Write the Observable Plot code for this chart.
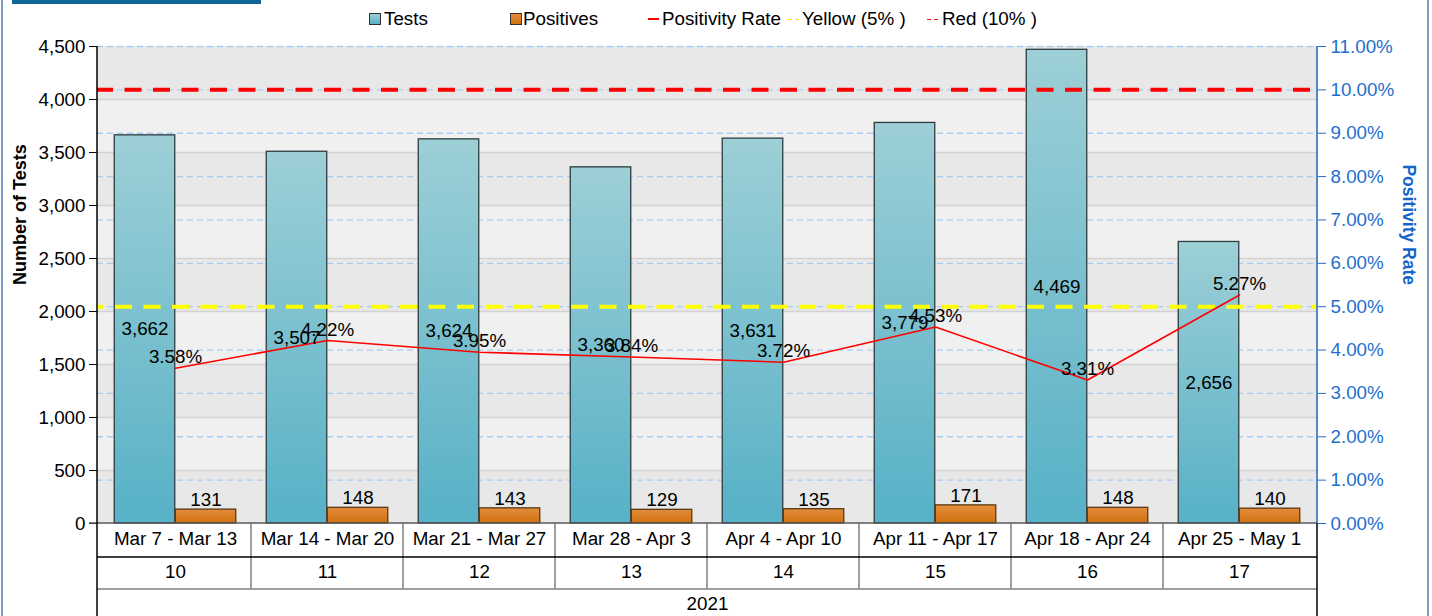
<!DOCTYPE html>
<html>
<head>
<meta charset="utf-8">
<script src="https://cdn.jsdelivr.net/npm/d3@7"></script>
<script src="https://cdn.jsdelivr.net/npm/@observablehq/plot@0.6"></script>
<style>
  body { margin: 0; background: #fff; font-family: "Liberation Sans", Arial, sans-serif; }
  #wrap { position: relative; width: 1432px; height: 616px; overflow: hidden; background: #fff; }
  #wrap svg { position: absolute; left: 0; top: 0; }
</style>
</head>
<body>
<div id="wrap"></div>
<script>
// ---- data ----
const weeks = ["Mar 7 - Mar 13", "Mar 14 - Mar 20", "Mar 21 - Mar 27", "Mar 28 - Apr 3",
               "Apr 4 - Apr 10", "Apr 11 - Apr 17", "Apr 18 - Apr 24", "Apr 25 - May 1"];
const weekNumbers = ["10", "11", "12", "13", "14", "15", "16", "17"];
const year = "2021";
const tests = [3662, 3507, 3624, 3360, 3631, 3779, 4469, 2656];
const positives = [131, 148, 143, 129, 135, 171, 148, 140];
const positivityRate = [3.58, 4.22, 3.95, 3.84, 3.72, 4.53, 3.31, 5.27];
const yellowThreshold = 5;
const redThreshold = 10;
const leftTicks = [0, 500, 1000, 1500, 2000, 2500, 3000, 3500, 4000, 4500];
const rightTicks = [0, 1, 2, 3, 4, 5, 6, 7, 8, 9, 10, 11];
const legendItems = ["Tests", "Positives", "Positivity Rate", "Yellow (5% )", "Red (10% )"];

const TEST_MAX = leftTicks[leftTicks.length - 1];
const RATE_MAX = rightTicks[rightTicks.length - 1];
const toY = r => r * TEST_MAX / RATE_MAX;

const rows = weeks.map((w, i) => ({week: w, tests: tests[i], positives: positives[i], rate: positivityRate[i]}));
const bands = leftTicks.slice(0, -1).map((t, i) => ({y1: t, y2: leftTicks[i + 1], i}));

const FONT = "'Liberation Sans', Arial, sans-serif";
const FS = 18.8;

function gradients() {
  const ns = "http://www.w3.org/2000/svg";
  const defs = document.createElementNS(ns, "defs");
  defs.innerHTML =
    '<linearGradient id="gTests" x1="0" y1="0" x2="0" y2="1">' +
      '<stop offset="0" stop-color="#9dcfd6"/><stop offset="1" stop-color="#57b1c7"/></linearGradient>' +
    '<linearGradient id="gPos" x1="0" y1="0" x2="0" y2="1">' +
      '<stop offset="0" stop-color="#e38d3e"/><stop offset="1" stop-color="#d2700e"/></linearGradient>';
  return defs;
}

const W = 1432, H = 616;
const mL = 97, mR = 115, mT = 46, mB = 93;

const plot = Plot.plot({
  width: W, height: H,
  marginLeft: mL, marginRight: mR, marginTop: mT, marginBottom: mB,
  style: {fontFamily: FONT, fontSize: FS + "px", color: "#000", background: "transparent", overflow: "visible"},
  x: {domain: weeks, padding: 0, axis: null},
  y: {domain: [0, TEST_MAX], axis: null},
  marks: [
    gradients,
    Plot.rect(bands.filter(b => b.i % 2 === 0), {y1: "y1", y2: "y2", fill: "#e8e8e8"}),
    Plot.rect(bands.filter(b => b.i % 2 === 1), {y1: "y1", y2: "y2", fill: "#f0f0f0"}),
    Plot.ruleY(leftTicks.slice(1, -1), {stroke: "#d2d2d2", strokeWidth: 1.5}),
    Plot.ruleY(rightTicks.slice(1).map(toY), {stroke: "#a8cdf2", strokeWidth: 1.3, strokeDasharray: "6,4"}),
    Plot.barY(rows, {x: "week", y: "tests", fill: "url(#gTests)", stroke: "#2c3c3f", strokeWidth: 1.3,
                     insetLeft: 15.25, insetRight: 76.25}),
    Plot.barY(rows, {x: "week", y: "positives", fill: "url(#gPos)", stroke: "#5a3812", strokeWidth: 1.3,
                     insetLeft: 76.25, insetRight: 15.25}),
    Plot.ruleY([toY(redThreshold)], {stroke: "#ff0000", strokeWidth: 4, strokeDasharray: "17,11.5", strokeDashoffset: 1}),
    Plot.ruleY([toY(yellowThreshold)], {stroke: "#ffff00", strokeWidth: 4, strokeDasharray: "17,11.5", strokeDashoffset: 10.5}),
    Plot.line(rows, {x: "week", y: d => toY(d.rate), stroke: "#ff0000", strokeWidth: 1.6}),
    Plot.text(rows, {x: "week", y: d => d.tests / 2, text: d => d3.format(",")(d.tests), dx: -30.5,
                     fontSize: FS, fill: "#000"}),
    Plot.text(rows, {x: "week", y: "positives", text: d => d3.format(",")(d.positives), dx: 30.5,
                     lineAnchor: "bottom", dy: -3.5, fontSize: FS, fill: "#000"}),
    Plot.text(rows, {x: "week", y: d => toY(d.rate), text: d => d.rate.toFixed(2) + "%",
                     lineAnchor: "bottom", dy: -5, fontSize: FS, fill: "#000"}),
    Plot.axisY(leftTicks, {anchor: "left", tickSize: 8, tickPadding: 4, tickFormat: d3.format(","),
                           fontSize: FS, label: null, color: "#000"}),
    Plot.axisY(rightTicks.map(toY), {anchor: "right", tickSize: 8, tickPadding: 5,
                           tickFormat: v => (v * RATE_MAX / TEST_MAX).toFixed(2) + "%",
                           fontSize: FS, label: null, color: "#1f6fcc"}),
    Plot.text(["Number of Tests"], {frameAnchor: "left", dx: -77, rotate: -90, fontWeight: "bold",
                                    fontSize: 18, fill: "#000"}),
    Plot.text(["Positivity Rate"], {frameAnchor: "right", dx: 91, rotate: 90, fontWeight: "bold",
                                    fontSize: 17.5, fill: "#1565c8"}),
    // table text below the x axis
    Plot.text(weeks, {x: d => d, frameAnchor: "bottom", dy: 21, fontSize: FS, fill: "#000"}),
    Plot.text(weekNumbers.map((n, i) => ({w: weeks[i], n})), {x: "w", text: "n", frameAnchor: "bottom", dy: 54,
                     fontSize: FS, fill: "#000"}),
    Plot.text([year], {frameAnchor: "bottom", dy: 86, fontSize: FS, fill: "#000"})
  ]
});

document.getElementById("wrap").appendChild(plot);

// ---- structural lines (axis lines and table grid) from Plot's scales ----
const xs = plot.scale("x");
const ys = plot.scale("y");
const x0 = xs.range[0], x1 = xs.range[1];
const yTop = ys.apply(TEST_MAX), yBase = ys.apply(0);
const row1 = yBase + 34, row2 = yBase + 66;
const g = d3.select(plot).append("g").attr("fill", "none");
weeks.slice(1).forEach(w => {
  const xv = xs.apply(w);
  g.append("line").attr("x1", xv).attr("x2", xv).attr("y1", yBase).attr("y2", row2)
    .attr("stroke", "#808080").attr("stroke-width", 1.5);
});
g.append("line").attr("x1", x0).attr("x2", x1).attr("y1", row1).attr("y2", row1).attr("stroke", "#000").attr("stroke-width", 1.3);
g.append("line").attr("x1", x0).attr("x2", x1).attr("y1", row2).attr("y2", row2).attr("stroke", "#808080").attr("stroke-width", 1.5);
g.append("line").attr("x1", x0 - 8).attr("x2", x1).attr("y1", yBase).attr("y2", yBase).attr("stroke", "#5a5a5a").attr("stroke-width", 1.6);
g.append("line").attr("x1", x0).attr("x2", x0).attr("y1", yTop).attr("y2", H).attr("stroke", "#000").attr("stroke-width", 1.5);
g.append("line").attr("x1", x1).attr("x2", x1).attr("y1", yTop).attr("y2", yBase).attr("stroke", "#1f63b5").attr("stroke-width", 1.5);
g.append("line").attr("x1", x1).attr("x2", x1).attr("y1", yBase).attr("y2", H).attr("stroke", "#000").attr("stroke-width", 1.5);

// ---- page decorations & legend ----
const wrap = document.getElementById("wrap");
function addDiv(css, html) {
  const d = document.createElement("div");
  d.style.cssText = css;
  if (html != null) d.innerHTML = html;
  wrap.appendChild(d);
  return d;
}
addDiv("position:absolute;left:1px;top:0;width:2px;height:616px;background:#7f9ec6;");
addDiv("position:absolute;left:1427px;top:0;width:2px;height:616px;background:#7f9ec6;");
addDiv("position:absolute;left:12px;top:0;width:249px;height:4px;background:#0e6795;");

const LT = "position:absolute;top:8px;font-size:18.8px;line-height:22px;white-space:nowrap;";
addDiv("position:absolute;left:369px;top:13px;width:10px;height:10px;border:1px solid #333;background:linear-gradient(#9dcfd6,#57b1c7);");
addDiv(LT + "left:384px;", legendItems[0]);
addDiv("position:absolute;left:510px;top:13px;width:10px;height:10px;border:1px solid #333;background:linear-gradient(#e38d3e,#d2700e);");
addDiv(LT + "left:523px;", legendItems[1]);
addDiv("position:absolute;left:648px;top:18px;width:11px;height:2px;background:#ff0000;");
addDiv(LT + "left:662px;", legendItems[2]);
addDiv("position:absolute;left:788px;top:18.5px;width:12px;height:1px;background:repeating-linear-gradient(90deg,#e8e800 0 4px,transparent 4px 7px);");
addDiv(LT + "left:802px;", legendItems[3]);
addDiv("position:absolute;left:927px;top:18.5px;width:12px;height:1px;background:repeating-linear-gradient(90deg,#ff0000 0 4px,transparent 4px 7px);");
addDiv(LT + "left:942px;", legendItems[4]);
</script>
</body>
</html>
